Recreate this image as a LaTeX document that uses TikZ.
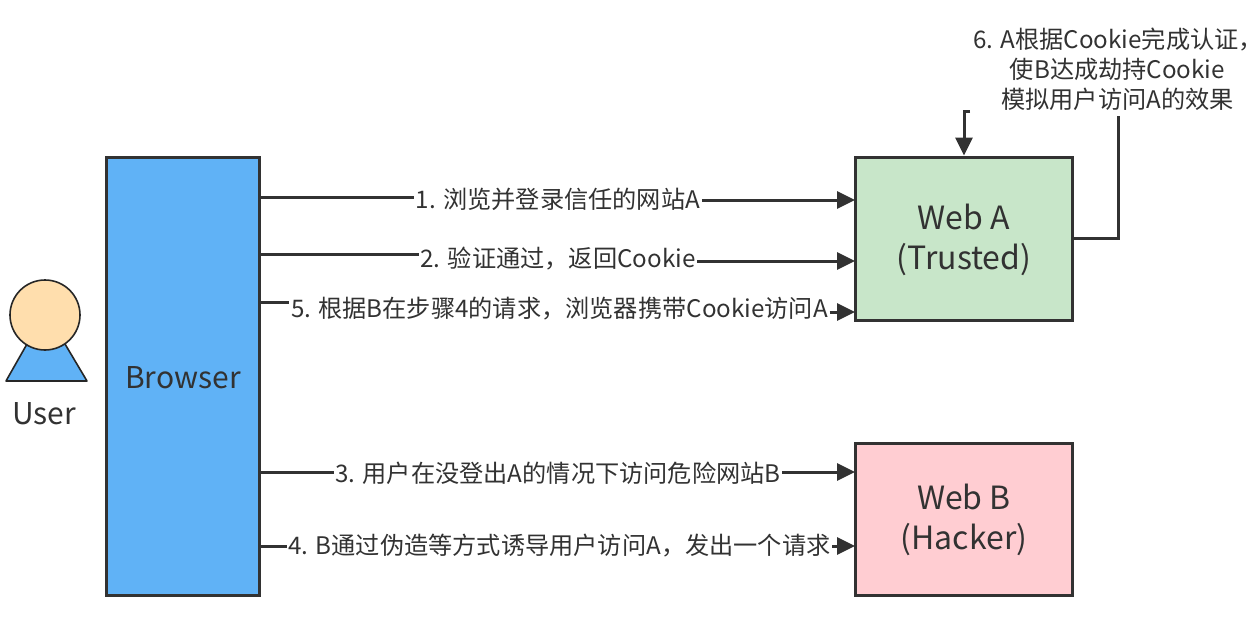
\documentclass[tikz,border=0pt]{standalone}
\usepackage{xcolor}
\usepackage{fontspec}
\setmainfont{Noto Sans CJK SC}
\usetikzlibrary{arrows.meta}
\definecolor{ink}{HTML}{323232}
\definecolor{browserblue}{HTML}{60B2F6}
\definecolor{trustgreen}{HTML}{C8E6C9}
\definecolor{hackerpink}{HTML}{FFCDD2}
\definecolor{skin}{HTML}{FFDEAD}
\tikzset{
  line/.style={draw=ink, line width=3pt},
  flow/.style={line, -{Triangle[length=18pt,width=17pt]}},
  box/.style={draw=ink, line width=3pt, inner sep=0pt, align=center, text=ink, font=\fontsize{32}{40}\selectfont},
  lbl/.style={text=ink, inner sep=1.5pt, align=center, font=\fontsize{24.2}{30}\selectfont},
  figure/.style={draw=black!85, line width=1.6pt, line join=round}
}
\begin{document}
\begin{tikzpicture}[x=1pt, y=-1pt]
  \useasboundingbox (0,0) rectangle (1255,634);

  \node[box, fill=browserblue, minimum width=153.5pt, minimum height=438pt] (browser) at (183,376) {};
  \node[text=ink, inner sep=0pt, font=\fontsize{30}{36}\selectfont] (browsertext) at (183,378) {Browser};
  \node[box, fill=trustgreen, minimum width=217.5pt, minimum height=163pt] (weba) at (964,238.5) {};
  \node[text=ink, inner sep=0pt, align=center, font=\fontsize{32}{40}\selectfont] (webatext) at (964,240) {Web A\\(Trusted)};
  \node[box, fill=hackerpink, minimum width=217.5pt, minimum height=152pt] (webb) at (964,519) {};
  \node[text=ink, inner sep=0pt, align=center, font=\fontsize{32}{40}\selectfont] (webbtext) at (964,520) {Web B\\(Hacker)};

  \draw[figure, fill=browserblue] (6,381) -- (27,344) -- (65,344) -- (87,381) -- cycle;
  \node[circle, figure, fill=skin, minimum size=70pt, inner sep=0pt] (head) at (45,315) {};
  \node[text=ink, inner sep=0pt, font=\fontsize{30}{36}\selectfont] (user) at (44,414) {User};

  \node[lbl] (lblone) at (558,199) {1. 浏览并登录信任的网站A};
  \node[lbl] (lbltwo) at (558,259) {2. 验证通过，返回Cookie};
  \node[lbl] (lblfive) at (559.5,309) {5. 根据B在步骤4的请求，浏览器携带Cookie访问A};
  \node[lbl] (lblthree) at (558,473) {3. 用户在没登出A的情况下访问危险网站B};
  \node[lbl] (lblfour) at (559.5,546) {4. B通过伪造等方式诱导用户访问A，发出一个请求};
  \node[lbl] (lblsix) at (1112,69) {6. A根据Cookie完成认证{\addfontfeature{RawFeature=+halt}，}\\\hspace*{11pt}使B达成劫持Cookie\\\hspace*{11pt}模拟用户访问A的效果};

  \coordinate (b1) at (260,197);
  \coordinate (b2) at (260,254);
  \coordinate (b5) at (260,302);
  \coordinate (b3) at (260,472);
  \coordinate (b4) at (260,546);
  \coordinate (a1) at (855,200);
  \coordinate (a2) at (855,261);
  \coordinate (a5) at (855,312);
  \coordinate (h3) at (855,472);
  \coordinate (h4) at (855,546);
  \coordinate (c6) at (1118,116);
  \coordinate (d6) at (970,111);

  \draw[line] (b1) -- (lblone.west |- b1);
  \draw[flow] (lblone.east |- a1) -- (a1);
  \draw[line] (b2) -- (lbltwo.west |- b2);
  \draw[flow] (lbltwo.east |- a2) -- (a2);
  \draw[line] (b5) -- (lblfive.west |- b5);
  \draw[flow] (lblfive.east |- a5) -- (a5);
  \draw[line] (b3) -- (lblthree.west |- b3);
  \draw[flow] (lblthree.east |- h3) -- (h3);
  \draw[line] (b4) -- (lblfour.west |- b4);
  \draw[flow] (lblfour.east |- h4) -- (h4);

  \draw[line] (weba.east) -- (c6 |- weba.east) -- (c6);
  \draw[flow] (d6) -- (weba.north |- d6) -- (weba.north);
\end{tikzpicture}
\end{document}
